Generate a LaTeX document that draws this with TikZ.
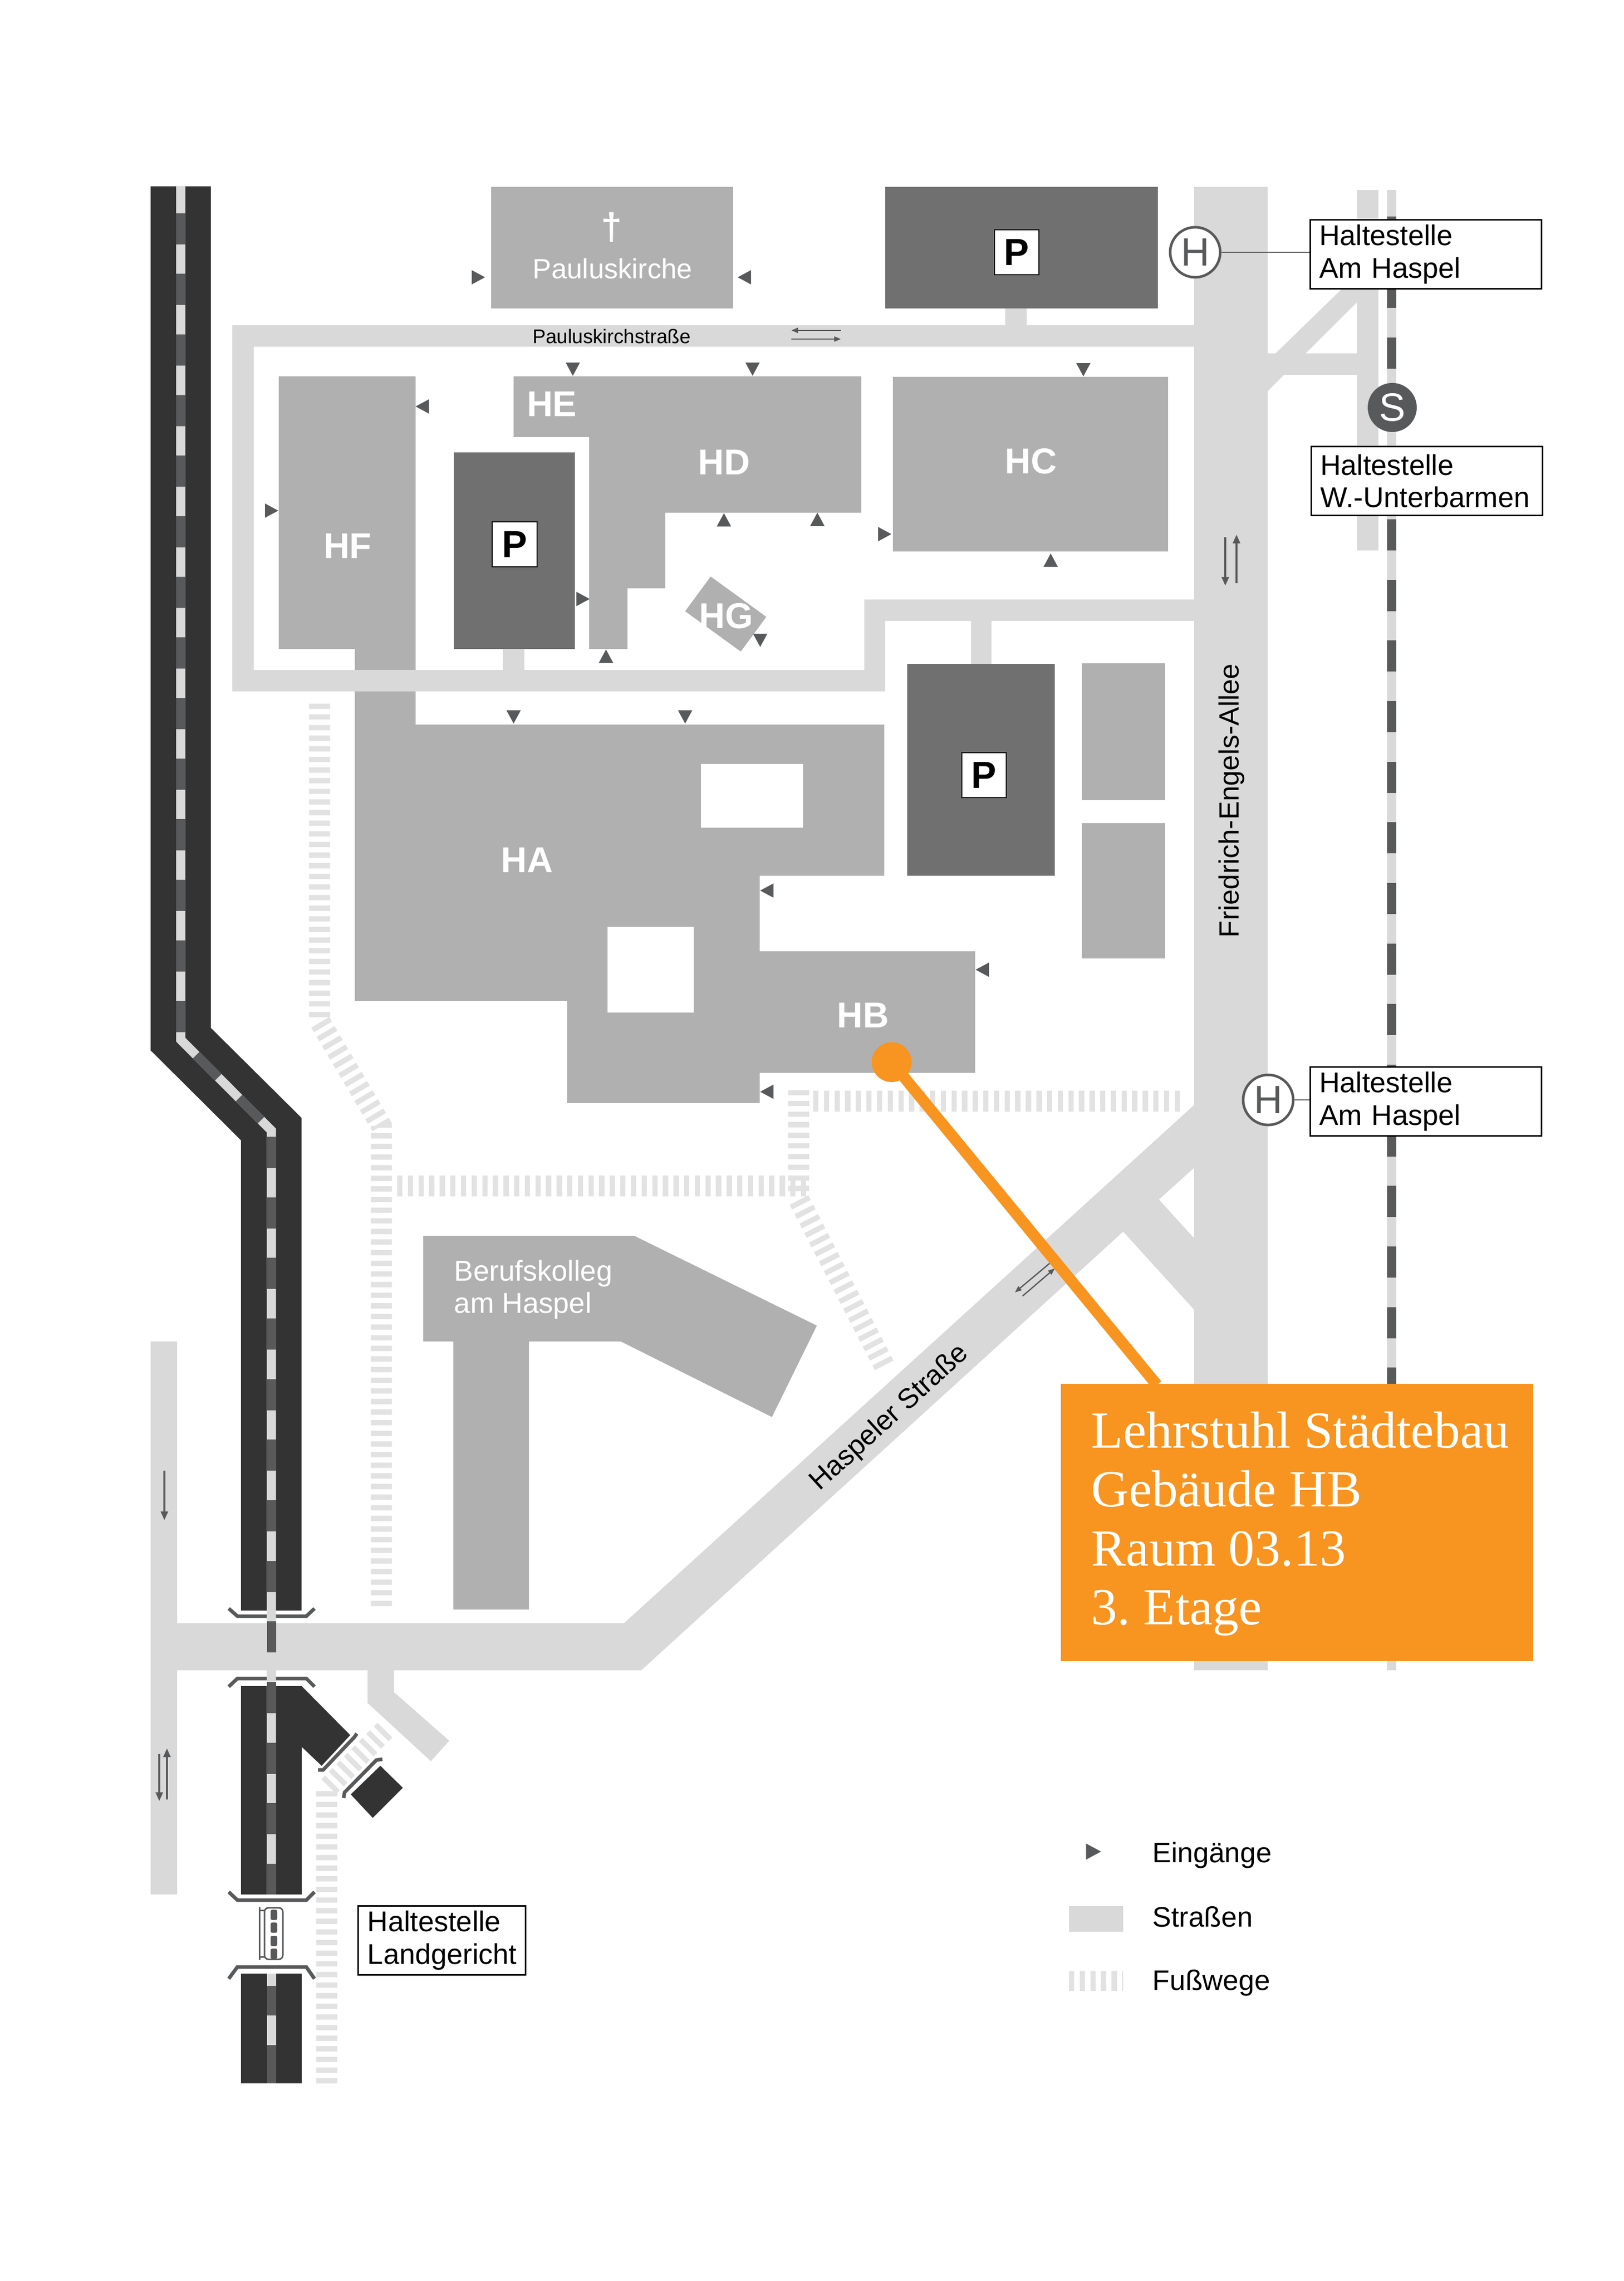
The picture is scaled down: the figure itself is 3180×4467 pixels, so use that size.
\documentclass[tikz,border=0pt]{standalone}
\usepackage{fontspec}
\setmainfont{Liberation Sans}
\newfontfamily\roomfont{Liberation Serif}
\usetikzlibrary{arrows.meta}
\definecolor{streetgrey}{HTML}{D9D9D9}
\definecolor{footgrey}{HTML}{E2E2E2}
\definecolor{buildgrey}{HTML}{B0B0B0}
\definecolor{parkgrey}{HTML}{707070}
\definecolor{roadblack}{HTML}{333333}
\definecolor{signgrey}{HTML}{58595B}
\definecolor{roomorange}{HTML}{F89420}
\tikzset{
  footway/.style={draw=footgrey,line width=0.41cm,dash pattern=on 0.104cm off 0.104cm},
  streetline/.style={draw=streetgrey,line width=0.41cm,line join=miter},
  midlight/.style={draw=streetgrey,line width=0.18cm},
  middark/.style={draw=signgrey,line width=0.18cm},
  middash/.style={middark,dash pattern=on 0.61cm off 0.576cm},
  bracket/.style={draw=signgrey,line width=0.07cm},
  streetarrow/.style={draw=signgrey,line width=0.035cm,-{Triangle[length=0.17cm,width=0.14cm]}},
  thinarrow/.style={draw=signgrey,line width=0.025cm,-{Triangle[length=0.13cm,width=0.1cm]}},
  hlabel/.style={text=white,font=\fontsize{20}{24}\selectfont\bfseries},
  whitetext/.style={text=white,font=\fontsize{15.5}{17.7}\selectfont,align=left},
  blacktext/.style={text=black,font=\fontsize{15.5}{17.7}\selectfont},
  keytext/.style={text=black,anchor=base west,inner sep=0pt,font=\fontsize{15.7}{18}\selectfont},
  haltbox/.style={draw=black,fill=white,line width=0.03cm,inner xsep=0.18cm,inner ysep=0pt,
    text width=4.17cm,minimum height=1.35cm,align=left,font=\fontsize{15.9}{18}\selectfont},
  parkbox/.style={draw=black,fill=white,line width=0.02cm,minimum size=0.87cm,inner sep=0pt,
    font=\fontsize{21}{24}\selectfont\bfseries},
  stopsign/.style={circle,draw=signgrey,fill=white,line width=0.05cm,minimum size=0.98cm,inner sep=0pt,
    text=signgrey,font=\fontsize{22}{24}\selectfont},
  entrance/.pic={\fill[signgrey] (-13,-14) -- (13,0) -- (-13,14) -- cycle;}
}

\begin{document}
\begin{tikzpicture}[x=0.01cm,y=-0.01cm]
  \useasboundingbox (0,0) rectangle (3180,4467);

  \draw[footway] (626,1378) -- (626,2000) -- (747,2205) -- (747,3153);
  \draw[footway] (778,2322) -- (1582,2322);
  \draw[footway] (1564,2135) -- (1564,2342);
  \draw[footway] (1565,2350) -- (1735,2680);
  \draw[footway] (1593,2156) -- (2316,2156);
  \draw[footway] (640,4080) -- (640,3503) -- (757,3385);

  \fill[streetgrey] (2339,366) rectangle (2483,3271);
  \fill[streetgrey] (295,2627) rectangle (347,3710);
  \fill[streetgrey] (1222,3179) -- (2340,2163) -- (2340,2286) -- (2270,2349) -- (2340,2426)
    -- (2340,2566) -- (2200,2412) -- (1256,3271) -- (295,3271) -- (295,3179) -- cycle;
  \fill[streetgrey] (720,3270) -- (772,3270) -- (772,3314) -- (880,3409) -- (844,3449) -- (720,3335) -- cycle;
  \fill[streetgrey] (2658,372) rectangle (2700,1078);
  \fill[streetgrey] (2483,692) rectangle (2658,734);
  \fill[streetgrey] (2483,707) -- (2658,537) -- (2658,592) -- (2483,766) -- cycle;

  \fill[buildgrey] (962,366) rectangle (1436,604);
  \fill[buildgrey] (1006,737) rectangle (1154,856);
  \fill[buildgrey] (1154,737) -- (1687,737) -- (1687,1004) -- (1303,1004) -- (1303,1152)
    -- (1229,1152) -- (1229,1271) -- (1154,1271) -- cycle;
  \fill[buildgrey] (1749,738) rectangle (2288,1080);
  \fill[buildgrey] (1392,1129) -- (1342,1197) -- (1451,1276) -- (1501,1208) -- cycle;
  \fill[buildgrey] (546,737) -- (814,737) -- (814,1419) -- (1732,1419) -- (1732,1715) -- (1488,1715)
    -- (1488,1863) -- (1910,1863) -- (1910,2101) -- (1488,2101) -- (1488,2160) -- (1111,2160)
    -- (1111,1960) -- (695,1960) -- (695,1271) -- (546,1271) -- cycle;
  \fill[white] (1373,1496) rectangle (1573,1621);
  \fill[white] (1190,1815) rectangle (1359,1983);
  \fill[buildgrey] (2119,1299) rectangle (2282,1567);
  \fill[buildgrey] (2119,1612) rectangle (2282,1877);
  \fill[buildgrey] (829,2420) -- (1242,2420) -- (1600,2596) -- (1512,2775) -- (1216,2627) -- (1036,2627)
    -- (1036,3152) -- (888,3152) -- (888,2627) -- (829,2627) -- cycle;
  \fill[parkgrey] (1734,366) rectangle (2268,604);
  \fill[parkgrey] (889,886) rectangle (1126,1271);
  \fill[parkgrey] (1777,1300) rectangle (2066,1715);

  \draw[streetline] (2340,658) -- (476,658) -- (476,1333) -- (1713,1333) -- (1713,1195) -- (2340,1195);
  \fill[streetgrey] (1969,604) rectangle (2011,640);
  \fill[streetgrey] (985,1271) rectangle (1027,1315);
  \fill[streetgrey] (1902,1216) rectangle (1942,1300);

  \fill[roadblack] (295,365) -- (413,365) -- (413,2013) -- (590.5,2189) -- (590.5,3154) -- (472,3154)
    -- (472,2233) -- (295,2057) -- cycle;
  \fill[roadblack] (472,3302) -- (591,3302) -- (686,3398) -- (630,3458) -- (591,3421) -- (591,3710)
    -- (472,3710) -- cycle;
  \fill[roadblack] (472,3865) rectangle (591,4080);
  \fill[roadblack] (745,3458) -- (789,3501) -- (730,3560) -- (687,3514) -- cycle;
  \draw[bracket] (448,3150) -- (465,3165) -- (600,3165) -- (616,3150);
  \draw[bracket] (448,3303) -- (465,3287) -- (600,3287) -- (616,3303);
  \draw[bracket] (448,3705) -- (465,3721) -- (600,3721) -- (616,3705);
  \draw[bracket] (448,3875) -- (465,3852) -- (600,3852) -- (616,3875);
  \draw[bracket] (623,3466) -- (633,3466) -- (694,3402) -- (699,3395);
  \draw[bracket] (673,3521) -- (675,3510) -- (737,3447) -- (749,3445);

  \draw[midlight] (354,365) -- (354,2036) -- (531.6,2214) -- (531.6,3710);
  \draw[midlight] (531.6,3865) -- (531.6,4080);
  \draw[middash,dash phase=0.661cm] (354,365) -- (354,2036) -- (531.6,2214) -- (531.6,2226);
  \draw[middash] (531.6,2226) -- (531.6,3710);
  \draw[middark] (531.6,3889) -- (531.6,3947);
  \draw[middark] (531.6,4005) -- (531.6,4080);

  \draw[signgrey,line width=0.03cm] (508,3735) -- (508,3838);
  \draw[signgrey,line width=0.03cm] (508,3741) -- (518,3741);
  \draw[signgrey,line width=0.03cm] (508,3832) -- (518,3832);
  \draw[signgrey,line width=0.03cm,rounded corners=0.08cm] (518,3736) rectangle (554,3837);
  \foreach \ytop in {3740,3765,3791,3816}
    \fill[signgrey,rounded corners=0.03cm] (530,\ytop) rectangle (543,\ytop+20);

  \draw[midlight] (2726,372) -- (2726,3271);
  \draw[middash,dash phase=0.671cm] (2726,372) -- (2726,3271);

  \foreach \px/\py/\ang in {937/543/0,1458/543/180,827/796/180,532/1000/0,1122/723/270,1474/723/270,
    2122/724/270,1418/1018/90,1601/1017/90,1733/1046/0,1142/1173/0,1187/1285/90,2058/1097/90,
    1489/1254/270,1006/1404/270,1342/1404/270,1502/1744/180,1924/1899/180,1502/2138/180}
    \pic[rotate=\ang] at (\px,\py) {entrance};

  \draw[streetarrow] (2400,1052) -- (2400,1147);
  \draw[streetarrow] (2422,1142) -- (2422,1047);
  \draw[streetarrow] (322,2880) -- (322,2977);
  \draw[streetarrow] (312,3435) -- (312,3527);
  \draw[streetarrow] (327,3524) -- (327,3424);
  \draw[thinarrow] (1647,647) -- (1550,647);
  \draw[thinarrow] (1550,664) -- (1647,664);
  \draw[thinarrow] (2056,2474) -- (1988,2531);
  \draw[thinarrow] (2003,2538) -- (2066,2484);

  \draw (1198,445) node[text=white,font=\fontsize{21}{24}\selectfont\bfseries] (cross) {†};
  \draw (1200,526) node[whitetext] (kirche) {Pauluskirche};
  \draw (1198,659) node[font=\fontsize{11}{12}\selectfont] (kirchstr) {Pauluskirchstraße};
  \draw (1081,791) node[hlabel] (he) {HE};
  \draw (1418,905) node[hlabel] (hd) {HD};
  \draw (2019,903) node[hlabel] (hc) {HC};
  \draw (681,1069) node[hlabel] (hf) {HF};
  \draw (1422,1206) node[hlabel] (hg) {HG};
  \draw (1032,1684) node[hlabel] (ha) {HA};
  \draw (1690,1988) node[hlabel] (hb) {HB};
  \draw (1991,494) node[parkbox] (parktop) {P};
  \draw (1008,1066) node[parkbox] (parkleft) {P};
  \draw (1927,1518) node[parkbox] (parkmid) {P};
  \draw (889,2525) node[whitetext,anchor=west,inner sep=0pt,font=\fontsize{16}{17.9}\selectfont] (kolleg) {Berufskolleg\\am Haspel};
  \draw (2412,1568) node[blacktext,rotate=90] (allee) {Friedrich-Engels-Allee};
  \draw (1743,2777) node[blacktext,rotate=42.3] (haspeler) {Haspeler Straße};

  \draw (2341,494) node[stopsign] (hnorth) {H};
  \draw (2484,2154) node[stopsign] (hsouth) {H};
  \draw (2727,798) node[circle,fill=signgrey,minimum size=0.96cm,inner sep=0pt,text=white,font=\fontsize{22}{24}\selectfont] (sbahn) {S};
  \draw (2793,498) node[haltbox] (stopnorth) {Haltestelle\\Am Haspel};
  \draw (2795,942) node[haltbox] (stopsbahn) {Haltestelle\\W.-Unterbarmen};
  \draw (2793,2157) node[haltbox] (stopsouth) {Haltestelle\\Am Haspel};
  \draw (865.5,3800) node[haltbox,text width=2.91cm] (stopland) {Haltestelle\\Landgericht};
  \draw[signgrey,line width=0.02cm] (hnorth.east) -- (stopnorth.west |- hnorth.east);
  \draw[signgrey,line width=0.02cm] (hsouth.east) -- (stopsouth.west |- hsouth.east);

  \pic[scale=1.12] at (2142,3626) {entrance};
  \fill[streetgrey] (2094,3733) rectangle (2200,3783);
  \draw[footway,line width=0.39cm] (2094,3879) -- (2200,3879);
  \draw (2257,3647) node[keytext] (keyentry) {Eingänge};
  \draw (2257,3773) node[keytext] (keystreet) {Straßen};
  \draw (2257,3897) node[keytext] (keyfoot) {Fußwege};

  \coordinate (roomtop) at (2266,2712);
  \draw (1746.5,2080) node[circle,fill=roomorange,minimum size=0.78cm,inner sep=0pt] (roomdot) {};
  \draw[roomorange,line width=0.22cm] (roomdot.center) -- (roomtop);
  \draw (2540.5,2981.5) node[fill=roomorange,minimum width=9.25cm,minimum height=5.43cm,inner sep=0pt] (room) {};
  \draw (2137,2984) node[anchor=west,inner sep=0pt,text=white,align=left,font=\fontsize{29}{32.8}\selectfont\roomfont\frenchspacing] (roomtext) {Lehrstuhl Städtebau\\Gebäude HB\\Raum 03.13\\3. Etage};
\end{tikzpicture}
\end{document}
